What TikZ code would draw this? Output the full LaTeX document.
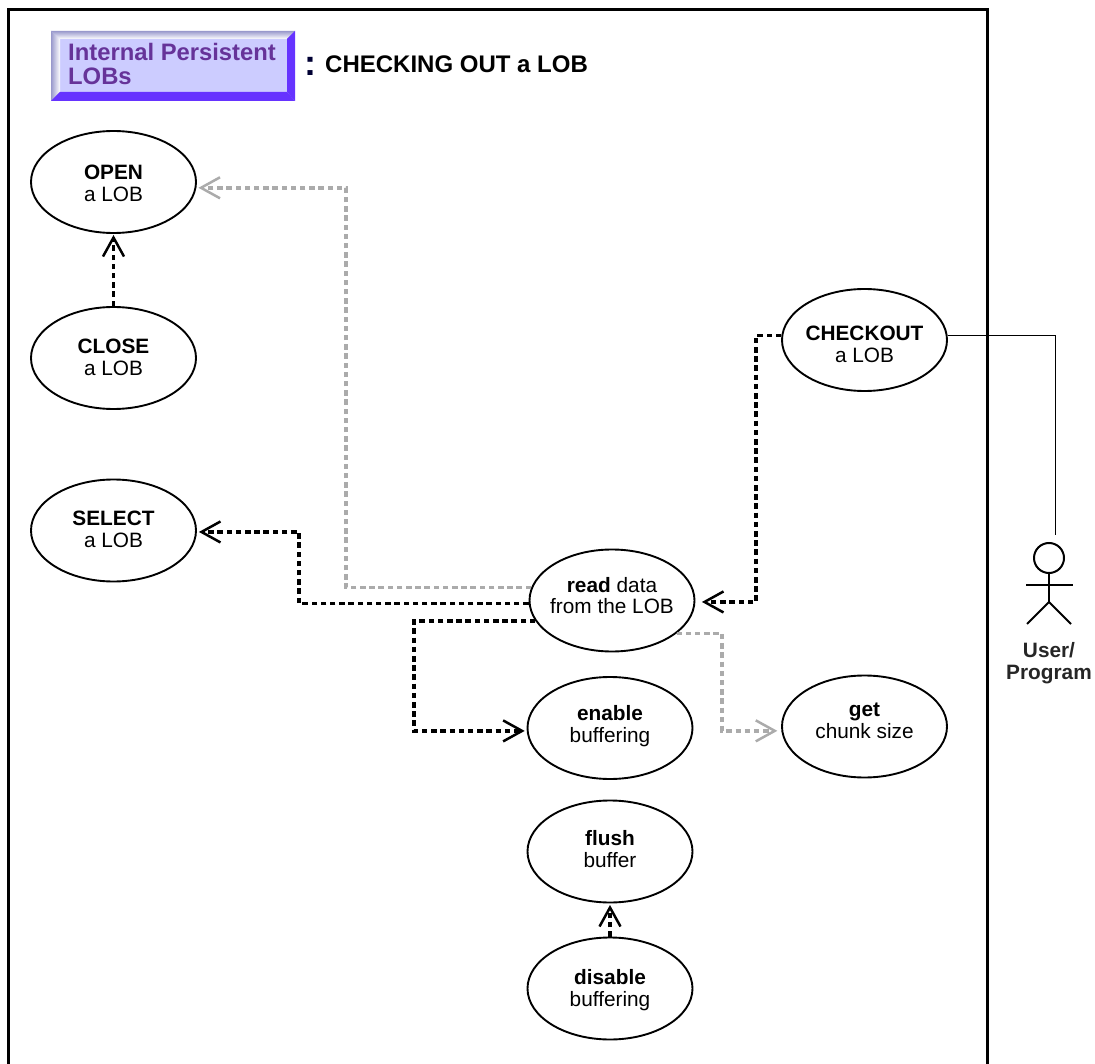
\documentclass[tikz,border=0pt]{standalone}
\usepackage{fontspec}
\setmainfont{Liberation Sans}
\usetikzlibrary{arrows.meta,calc,shapes.geometric}
\definecolor{dotgray}{HTML}{ABABAB}
\definecolor{titlepurple}{HTML}{663399}
\definecolor{boxface}{HTML}{CCCCFF}
\definecolor{boxdark}{HTML}{6633FF}
\definecolor{boxedge}{HTML}{9999CC}
\definecolor{colonnavy}{HTML}{000033}
\newcommand{\uctext}[4][0pt]{\raisebox{#2}[0pt][0pt]{\begin{tabular}[t]{@{}c@{}}#3\\[#1]#4\end{tabular}}}
\tikzset{
  x=1pt,y=-1pt,
  usecase/.style={ellipse,draw=black,line width=1.9pt,fill=white,minimum width=165pt,minimum height=102pt,inner xsep=-10pt,inner ysep=0pt,font=\fontsize{20.8}{22}\selectfont},
  dep/.style={line width=3.6pt,dash pattern=on 5.5pt off 3.7pt,-{Straight Barb[length=19pt,width=21pt,line width=2.5pt]}},
  depblack/.style={dep,draw=black},
  depgray/.style={dep,draw=dotgray},
  actorline/.style={line width=2pt,draw=black},
}
\begin{document}
\begin{tikzpicture}
\useasboundingbox (0,0) rectangle (1095,1064);
% frame, open at the bottom
\draw[line width=3pt,black] (8.5,1064) -- (8.5,10) -- (987,10) -- (987,1064);
% title box
\fill[boxface] (51,31) rectangle (295,101);
\shade[top color=boxedge,bottom color=white] (51,31) -- (295,31) -- (287,39) -- (60,39) -- cycle;
\shade[left color=boxedge,right color=white] (51,31) -- (51,101) -- (60,92) -- (60,39) -- cycle;
\fill[boxdark] (295,31) -- (295,101) -- (287,92) -- (287,39) -- cycle;
\fill[boxdark] (51,101) -- (295,101) -- (287,92) -- (60,92) -- cycle;
\node[anchor=base west,inner sep=0pt,text=titlepurple,align=left,font=\fontsize{23.8}{24}\selectfont\bfseries] (boxtitle) at (68,85) {Internal Persistent\\LOBs};
\node[anchor=base,inner sep=0pt,text=colonnavy,font=\fontsize{36}{36}\selectfont\bfseries] (colon) at (310,76) {:};
\node[anchor=base west,inner sep=0pt,font=\fontsize{24}{24}\selectfont\bfseries] (title) at (325,73) {CHECKING OUT a LOB};
% use cases
\node[usecase] (open) at (113.5,182) {\uctext{2.7pt}{\textbf{OPEN}}{a LOB}};
\node[usecase] (close) at (113.5,358) {\uctext{4.7pt}{\textbf{CLOSE}}{a LOB}};
\node[usecase] (select) at (113.5,530.5) {\uctext{5.5pt}{\textbf{SELECT}}{a LOB}};
\node[usecase] (checkout) at (864.5,340) {\uctext{-1pt}{\textbf{CHECKOUT}}{a LOB}};
\node[usecase] (read) at (612,600.5) {\uctext[-1.4pt]{7.8pt}{\textbf{read} data}{from the LOB}};
\node[usecase] (enable) at (610,728) {\uctext{8pt}{\textbf{enable}}{buffering}};
\node[usecase] (get) at (864.5,726.5) {\uctext{9.8pt}{\textbf{get}}{chunk size}};
\node[usecase] (flush) at (610,851.5) {\uctext{5.8pt}{\textbf{flush}}{buffer}};
\node[usecase] (disable) at (610,988.5) {\uctext{4.5pt}{\textbf{disable}}{buffering}};
% routing points
\coordinate (viaopen) at (346,400);
\coordinate (viaselect) at (299,560);
\coordinate (viaenable) at (414,680);
\coordinate (viaget) at (722,680);
\coordinate (viacheck) at (756,480);
% connectors
\draw[depgray,shorten >=2pt] (read.171) -| (viaopen) |- (open.-4);
\draw[depblack,shorten >=2pt] (read.182) -| (viaselect) |- (select.-1);
\draw[depblack,shorten >=2pt] (read.195) -| (viaenable) |- (enable.182);
\draw[depgray,shorten >=4pt] (read.-27) -| (viaget) |- (get.183);
\draw[depblack,shorten >=6.5pt] (checkout.177) -| (viacheck) |- (read.-1);
\draw[depblack,shorten >=1pt] (close.north) -- (open.south);
\draw[depblack,shorten >=1.5pt] (disable.north) -- (flush.south);
% actor
\node[circle,draw=black,line width=2pt,minimum size=30pt,inner sep=0pt] (head) at (1049,558) {};
\coordinate (actortop) at (1055,535);
\coordinate (hip) at (1049,602);
\draw[line width=1pt,black] (checkout.3) -| (actortop);
\draw[actorline] (head.south) -- (hip);
\draw[actorline] (1026,585) -- (1073,585);
\draw[actorline] (1027,624) -- (hip) -- (1071,624);
\node[anchor=base,inner sep=0pt,align=center,font=\fontsize{20.8}{22}\selectfont\bfseries,text=black!85] (actorlabel) at (1049,679) {User/\\Program};
\end{tikzpicture}
\end{document}
